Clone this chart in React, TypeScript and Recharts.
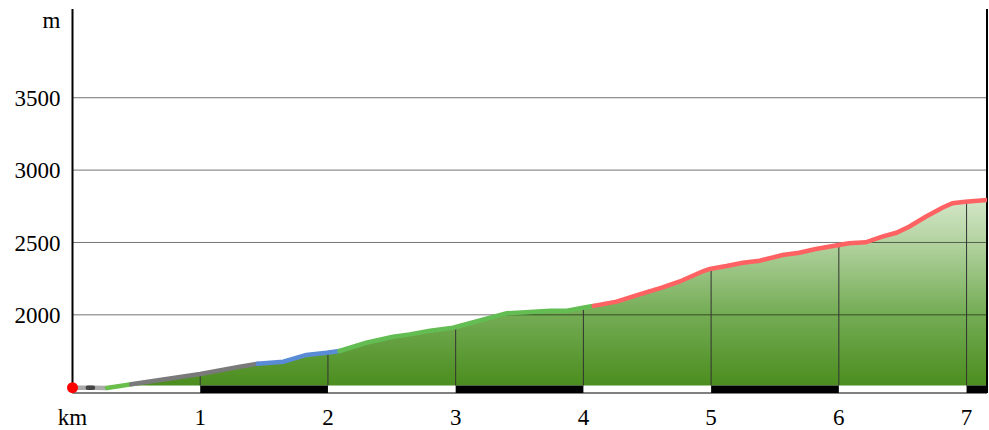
import {
  ComposedChart,
  Area,
  Line,
  XAxis,
  YAxis,
  ReferenceLine,
  ReferenceArea,
  ReferenceDot,
} from 'recharts';

// elevation profile, km along the route / metres above sea level
const KM = [
  0, 0.12, 0.16, 0.27, 0.46, 1.0, 1.31, 1.45, 1.65, 1.83, 1.99, 2.09, 2.3, 2.51, 2.64, 2.8,
  2.98, 3.11, 3.27, 3.4, 3.55, 3.74, 3.87, 4.05, 4.08, 4.26, 4.44, 4.62, 4.75, 4.94, 4.99,
  5.12, 5.25, 5.38, 5.56, 5.69, 5.82, 6.0, 6.08, 6.21, 6.34, 6.45, 6.55, 6.68, 6.81, 6.89,
  6.99, 7.16,
];
const ELEV = [
  1497, 1497, 1497, 1495, 1520, 1591, 1642, 1662, 1676, 1723, 1738, 1750, 1807, 1849, 1865,
  1890, 1911, 1942, 1980, 2011, 2018, 2029, 2029, 2058, 2062, 2091, 2142, 2190, 2229, 2303,
  2317, 2337, 2360, 2374, 2413, 2429, 2455, 2483, 2494, 2501, 2540, 2567, 2609, 2678, 2740,
  2771, 2782, 2793,
];

const Y_TICKS = [2000, 2500, 3000, 3500];
const X_TICKS = [0, 1, 2, 3, 4, 5, 6, 7];

// coloured stretches of the track (km from / to)
const SEG_BREAKS: Array<[number, number]> = [
  [0, 0.27],
  [0.12, 0.16],
  [0.27, 0.46],
  [0.46, 1.45],
  [1.45, 2.09],
  [2.09, 4.08],
  [4.08, 7.16],
];
const SEG_COLORS = ['#aaaaaa', '#444444', '#6abf4b', '#7a7a7a', '#5a8bd6', '#63bd52', '#ff6262'];

// black pieces of the km scale bar
const SCALE_BLACK: Array<[number, number]> = [
  [1, 2],
  [3, 4],
  [5, 6],
  [7, 7.16],
];

const BASE = 1512;
const Y_MIN = 1460;
const Y_MAX = 4113;
const X_MAX = 7.16;
const FONT = '"Liberation Serif", "Times New Roman", serif';

function elevAt(km: number) {
  for (let i = 1; i < KM.length; i++) {
    if (km <= KM[i]) {
      const t = (km - KM[i - 1]) / (KM[i] - KM[i - 1]);
      return ELEV[i - 1] + t * (ELEV[i] - ELEV[i - 1]);
    }
  }
  return ELEV[ELEV.length - 1];
}

const chartData = KM.map((km, i) => {
  const row: Record<string, number | null> = { km, elev: ELEV[i] };
  SEG_BREAKS.forEach(([a, b], j) => {
    row['s' + j] = km >= a - 1e-9 && km <= b + 1e-9 ? ELEV[i] : null;
  });
  return row;
});

export default function App() {
  const tickStyle = { fontSize: 23, fill: '#000', fontFamily: FONT };
  return (
    <div style={{ position: 'absolute', left: 0, top: 0, width: 989, height: 430, background: '#fff' }}>
      <ComposedChart width={989} height={430} data={chartData} margin={{ top: 9, right: 2, left: 0, bottom: 0 }}>
        <defs>
          <linearGradient id="fillGrad" x1="0" y1="0" x2="0" y2="1">
            <stop offset="0" stopColor="#d3e6c7" />
            <stop offset="0.25" stopColor="#afd19c" />
            <stop offset="0.6" stopColor="#76ad57" />
            <stop offset="1" stopColor="#4b8d1e" />
          </linearGradient>
        </defs>

        <XAxis
          type="number"
          dataKey="km"
          domain={[0, X_MAX]}
          ticks={X_TICKS}
          allowDataOverflow
          height={37}
          tickSize={0}
          tickMargin={16}
          tickLine={false}
          axisLine={{ stroke: '#000', strokeWidth: 1 }}
          tick={tickStyle}
          tickFormatter={(v: number) => (v === 0 ? 'km' : String(v))}
        />
        <YAxis
          type="number"
          domain={[Y_MIN, Y_MAX]}
          ticks={Y_TICKS}
          allowDataOverflow
          width={72.5}
          tickSize={0}
          tickMargin={12}
          tickLine={false}
          axisLine={{ stroke: '#000', strokeWidth: 2 }}
          tick={tickStyle}
          label={(props: { viewBox?: { x: number; y: number; width: number } }) => {
            const vb = props.viewBox || { x: 0, y: 9, width: 72.5 };
            return (
              <text x={vb.x + vb.width - 12} y={vb.y + 19} textAnchor="end" fontSize={23} fontFamily={FONT} fill="#000">
                m
              </text>
            );
          }}
        />

        <Area
          type="linear"
          dataKey={(d: { elev: number }) => Math.max(d.elev, BASE)}
          baseValue={BASE}
          stroke="none"
          fill="url(#fillGrad)"
          fillOpacity={1}
          isAnimationActive={false}
        />

        {SCALE_BLACK.map(([a, b]) => (
          <ReferenceArea key={a} x1={a} x2={b} y1={Y_MIN} y2={BASE} fill="#000" fillOpacity={1} stroke="none" />
        ))}

        {Y_TICKS.map((t) => (
          <ReferenceLine key={t} y={t} stroke="#000" strokeOpacity={0.55} strokeWidth={1} />
        ))}

        {X_TICKS.filter((k) => k > 0).map((k) => (
          <ReferenceLine
            key={'v' + k}
            segment={[
              { x: k, y: BASE },
              { x: k, y: elevAt(k) },
            ]}
            stroke="#333"
            strokeWidth={1}
          />
        ))}

        <ReferenceLine x={X_MAX} stroke="#000" strokeWidth={2} />

        {SEG_BREAKS.map((_, j) => (
          <Line
            key={'s' + j}
            type="linear"
            dataKey={'s' + j}
            stroke={SEG_COLORS[j]}
            strokeWidth={4.5}
            strokeLinecap="round"
            dot={false}
            activeDot={false}
            connectNulls={false}
            isAnimationActive={false}
          />
        ))}

        <ReferenceDot x={KM[0]} y={ELEV[0]} r={5.5} fill="#ff0000" stroke="none" ifOverflow="visible" />
      </ComposedChart>
    </div>
  );
}
